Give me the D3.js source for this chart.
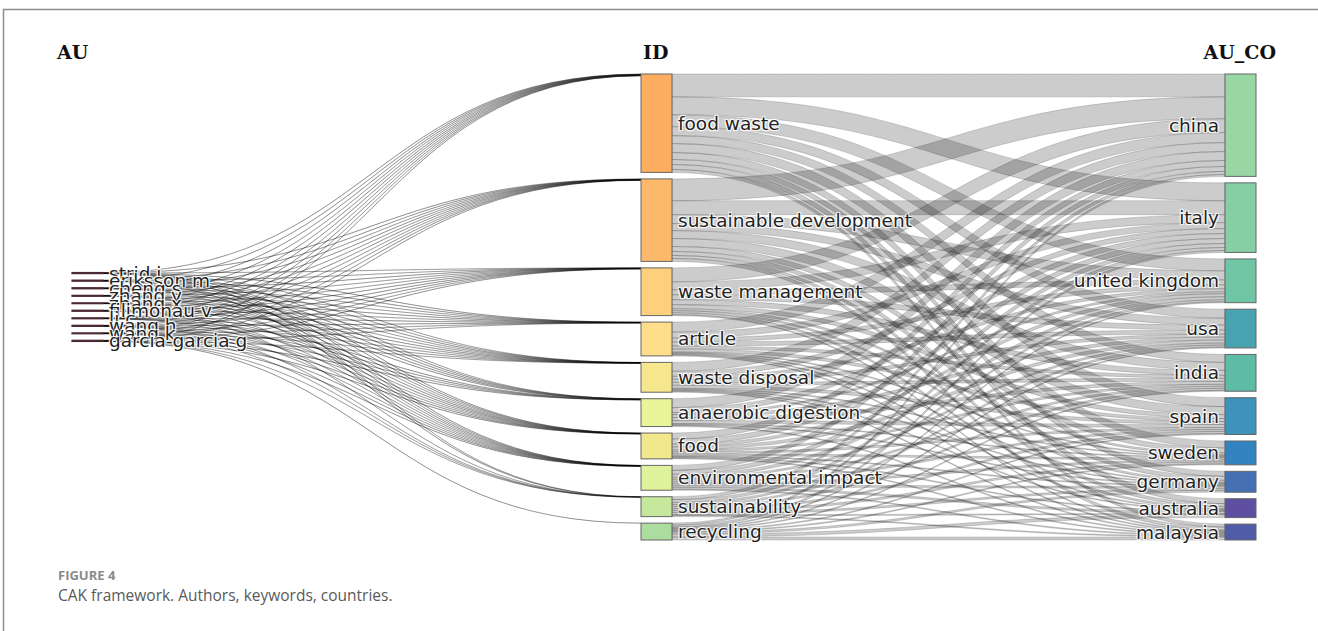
<!DOCTYPE html>
<html lang="en">
<head>
<meta charset="UTF-8">
<title>three fields plot</title>
<script src="https://cdn.jsdelivr.net/npm/d3@7"></script>
<style>
    body { margin: 0; background: #fff; }
    text.lbl {
        font-family: "DejaVu Sans", sans-serif;
        font-size: 18.5px;
        fill: #222;
        text-shadow: 1px 1px 1px #fff, -1px -1px 1px #fff, 1px -1px 1px #fff, -1px 1px 1px #fff;
    }
    text.head { font-family: "DejaVu Serif", serif; font-weight: bold; font-size: 19px; fill: #111; }
    path.link { fill: rgba(0,0,0,0.2); stroke: rgba(0,0,0,0.26); stroke-width: 0.6px; }
    path.link.au { fill: rgba(0,0,0,0.25); stroke: rgba(0,0,0,0.24); stroke-width: 0.9px; }
    rect.node { stroke: #666; stroke-width: 1px; }
    rect.node.au { stroke: #4a2a30; stroke-width: 1.2px; }
    text.fig { font-family: "Open Sans", sans-serif; font-size: 13px; font-weight: bold; fill: #8a8a8a; }
    text.cap { font-family: "Open Sans", sans-serif; font-size: 15.5px; fill: #5a5a5a; }
</style>
</head>
<body>
<svg width="1318" height="631"></svg>
<script>
    // fields, left to right
    let fieldNames = ["AU", "ID", "AU_CO"]

    let authors = ["strid i", "eriksson m", "cheng s", "zhang y", "zhang x",
        "filimonau v", "li c", "wang h", "wang k", "garcia-garcia g"]

    let keywords = ["food waste", "sustainable development", "waste management", "article",
        "waste disposal", "anaerobic digestion", "food", "environmental impact",
        "sustainability", "recycling"]

    let countries = ["china", "italy", "united kingdom", "usa", "india", "spain",
        "sweden", "germany", "australia", "malaysia"]

    // author -> keyword (rows = authors, cols = keywords)
    let authorKeyword = [
        [2, 2, 1, 1, 1, 1, 1, 1, 1, 0],
        [2, 2, 1, 1, 1, 1, 1, 1, 1, 0],
        [2, 2, 1, 1, 1, 2, 1, 1, 0, 0],
        [2, 1, 1, 1, 1, 2, 1, 1, 0, 0],
        [2, 1, 1, 1, 1, 1, 1, 1, 0, 0],
        [2, 2, 2, 1, 1, 0, 1, 1, 1, 0],
        [2, 1, 1, 1, 1, 2, 1, 1, 0, 0],
        [2, 1, 1, 1, 1, 2, 1, 1, 1, 0],
        [1, 1, 1, 1, 1, 1, 1, 1, 1, 0],
        [2, 2, 1, 1, 1, 1, 1, 1, 1, 1]
    ]

    // keyword -> country (rows = keywords, cols = countries)
    let keywordCountry = [
        [230, 180, 120, 90, 80, 90, 70, 50, 50, 30],
        [220, 140, 90, 70, 80, 80, 50, 40, 30, 30],
        [140, 80, 50, 50, 50, 40, 20, 20, 20, 10],
        [100, 60, 40, 40, 30, 30, 10, 10, 10, 10],
        [90, 50, 30, 30, 30, 30, 10, 10, 10, 10],
        [90, 50, 20, 30, 30, 30, 10, 10, 0, 10],
        [60, 50, 30, 30, 20, 20, 20, 10, 10, 10],
        [50, 40, 30, 20, 20, 20, 20, 20, 20, 10],
        [30, 30, 20, 20, 20, 20, 20, 20, 10, 10],
        [20, 20, 10, 10, 10, 10, 10, 20, 30, 30]
    ]

    // node colours
    let authorColor = "#9e0142"
    let keywordColors = ["#fdad5f", "#fdb96b", "#fdd07e", "#fede8a", "#f6e68c",
        "#eaf59a", "#f1e78b", "#ddf29a", "#c5e89c", "#abdca0"]
    let countryColors = ["#98d6a4", "#86cfa4", "#6fc5a4", "#48a3b0", "#5dbba6",
        "#3d93bc", "#3383c0", "#4570b4", "#5e4fa2", "#4f5ca8"]

    let svg = d3.select('svg')
    let plotTop = 74, plotBottom = 540, pad = 6.5, nodeW = 31
    let colX = d3.scaleOrdinal().domain(fieldNames).range([72, 641, 1225])

    //building nodes and links
    let auNodes = authors.map(function (d) { return {name: d, col: "AU", color: authorColor, inL: [], outL: []} })
    let idNodes = keywords.map(function (d, i) { return {name: d, col: "ID", color: keywordColors[i], inL: [], outL: []} })
    let coNodes = countries.map(function (d, i) { return {name: d, col: "AU_CO", color: countryColors[i], inL: [], outL: []} })
    let columns = [auNodes, idNodes, coNodes]

    let links = []
    authorKeyword.forEach(function (row, i) {
        row.forEach(function (v, j) {
            if (v > 0) links.push({source: auNodes[i], target: idNodes[j], value: v})
        })
    })
    keywordCountry.forEach(function (row, i) {
        row.forEach(function (v, j) {
            if (v > 0) links.push({source: idNodes[i], target: coNodes[j], value: v})
        })
    })
    links.forEach(function (l) { l.source.outL.push(l); l.target.inL.push(l) })

    columns.forEach(function (col) {
        col.forEach(function (n) {
            n.value = Math.max(d3.sum(n.inL, function (l) { return l.value }), d3.sum(n.outL, function (l) { return l.value }))
        })
    })

    //height scale: the fullest column fills the range
    let maxN = d3.max(columns, function (c) { return c.length })
    let maxSum = d3.max(columns, function (c) { return d3.sum(c, function (n) { return n.value }) })
    let hScale = d3.scaleLinear().domain([0, maxSum]).range([0, (plotBottom - plotTop) - pad * (maxN - 1)])

    let mid = (plotTop + plotBottom) / 2
    columns.forEach(function (col) {
        let H = d3.sum(col, function (n) { return hScale(n.value) }) + pad * (col.length - 1)
        let y = mid - H / 2
        col.forEach(function (n) {
            n.x0 = colX(n.col)
            n.x1 = n.x0 + nodeW
            n.y0 = y
            n.y1 = y + hScale(n.value)
            y = n.y1 + pad
        })
    })

    //stack links on each node
    columns.forEach(function (col) {
        col.forEach(function (n) {
            n.outL.sort(function (a, b) { return a.target.y0 - b.target.y0 })
            n.inL.sort(function (a, b) { return a.source.y0 - b.source.y0 })
            let y = n.y0
            n.outL.forEach(function (l) { l.w = hScale(l.value); l.sy = y; y += l.w })
            y = n.y0
            n.inL.forEach(function (l) { l.ty = y; y += hScale(l.value) })
        })
    })

    function linkPath(l) {
        let x0 = l.source.x1, x1 = l.target.x0, xm = (x0 + x1) / 2
        let p = d3.path()
        p.moveTo(x0, l.sy)
        p.bezierCurveTo(xm, l.sy, xm, l.ty, x1, l.ty)
        p.lineTo(x1, l.ty + l.w)
        p.bezierCurveTo(xm, l.ty + l.w, xm, l.sy + l.w, x0, l.sy + l.w)
        p.closePath()
        return p.toString()
    }

    // frame
    svg.append('path').attr('d', 'M3.5,631V9.5H1318').attr('fill', 'none')
        .attr('stroke', '#8c8c8c').attr('stroke-width', 1.5)

    svg.append('g').selectAll('path').data(links).join('path')
        .attr('class', function (d) { return d.source.col === "AU" ? 'link au' : 'link' })
        .attr('d', linkPath)

    let allNodes = auNodes.concat(idNodes, coNodes)
    svg.append('g').selectAll('rect').data(allNodes).join('rect')
        .attr('class', function (d) { return d.col === "AU" ? 'node au' : 'node' })
        .attr('x', function (d) { return d.x0 })
        .attr('y', function (d) { return d.y0 })
        .attr('width', nodeW)
        .attr('height', function (d) { return Math.max(d.y1 - d.y0, 0.5) })
        .attr('fill', function (d) { return d.color })

    svg.append('g').selectAll('text').data(allNodes).join('text')
        .attr('class', 'lbl')
        .attr('x', function (d) { return d.col === "AU_CO" ? d.x0 - 6 : d.x1 + 6 })
        .attr('y', function (d) { return (d.y0 + d.y1) / 2 })
        .attr('dy', '0.35em')
        .attr('text-anchor', function (d) { return d.col === "AU_CO" ? 'end' : 'start' })
        .text(function (d) { return d.name })

    //field headers
    svg.append('text').attr('class', 'head').attr('x', 57).attr('y', 59).text(fieldNames[0])
    svg.append('text').attr('class', 'head').attr('x', 643).attr('y', 59).text(fieldNames[1])
    svg.append('text').attr('class', 'head').attr('x', 1276).attr('y', 59)
        .attr('text-anchor', 'end').text(fieldNames[2])

    svg.append('text').attr('class', 'fig').attr('x', 58).attr('y', 580).text("FIGURE 4")
    svg.append('text').attr('class', 'cap').attr('x', 58).attr('y', 601)
        .text("CAK framework. Authors, keywords, countries.")
</script>
</body>
</html>
